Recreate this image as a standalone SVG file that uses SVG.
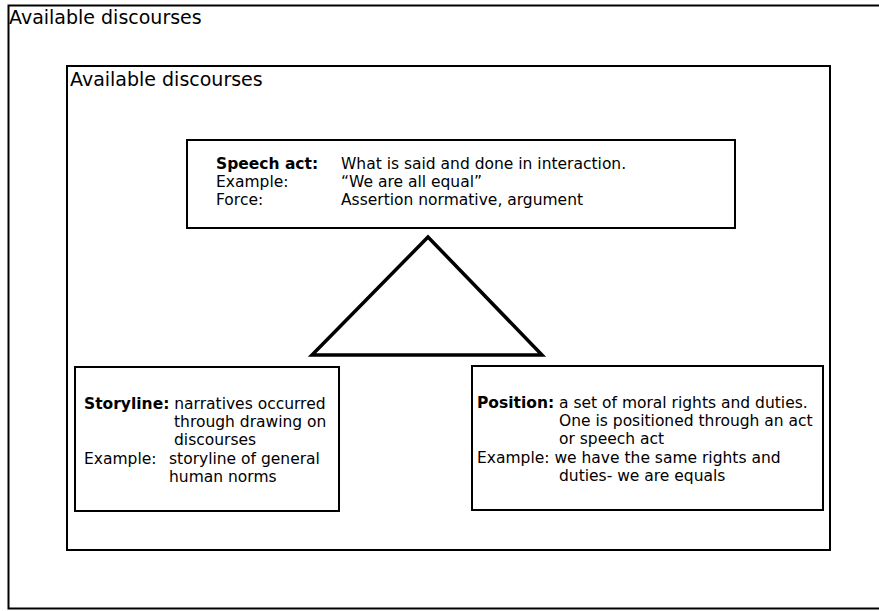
<svg xmlns="http://www.w3.org/2000/svg" width="879" height="611" viewBox="0 0 879 611">
<style>
.box{fill:#fff;stroke:#000;stroke-width:2}
.t{font-family:"DejaVu Sans",Verdana,sans-serif;font-size:15.5px;fill:#000}
.b{font-weight:bold}
.title{font-family:"DejaVu Sans",Verdana,sans-serif;font-size:19px;fill:#000}
</style>
<rect width="879" height="611" fill="#fff"/>
<g id="outer">
<rect class="box" x="8.5" y="5.5" width="880" height="603"/>
<text class="title" x="9" y="24">Available discourses</text>
</g>
<g id="inner">
<rect class="box" x="67" y="66" width="763" height="484"/>
<text class="title" x="70" y="85.5">Available discourses</text>
</g>
<g id="connectors">
<polygon points="428,237 312,355 542,355" fill="#fff" stroke="#000" stroke-width="3.5"/>
</g>
<g id="speech-act">
<rect class="box" x="187" y="140" width="548" height="88"/>
<text class="t" x="216" y="168.5"><tspan class="b">Speech act:</tspan><tspan x="341">What is said and done in interaction.</tspan></text>
<text class="t" x="216" y="186.5">Example:<tspan x="341">“We are all equal”</tspan></text>
<text class="t" x="216" y="205">Force:<tspan x="341">Assertion normative, argument</tspan></text>
</g>
<g id="storyline">
<rect class="box" x="75" y="367" width="264" height="144"/>
<text class="t" x="84" y="408.5"><tspan class="b">Storyline:</tspan> narratives occurred</text>
<text class="t" x="174" y="426.5">through drawing on</text>
<text class="t" x="174" y="444.5">discourses</text>
<text class="t" x="84" y="463.5">Example:<tspan x="169">storyline of general</tspan></text>
<text class="t" x="169" y="481.5">human norms</text>
</g>
<g id="position">
<rect class="box" x="472" y="366" width="351" height="144"/>
<text class="t" x="477" y="407.5"><tspan class="b">Position:</tspan><tspan x="559">a set of moral rights and duties.</tspan></text>
<text class="t" x="559" y="425.5">One is positioned through an act</text>
<text class="t" x="559" y="444">or speech act</text>
<text class="t" x="477" y="462.5">Example: we have the same rights and</text>
<text class="t" x="559" y="481">duties- we are equals</text>
</g>
</svg>
